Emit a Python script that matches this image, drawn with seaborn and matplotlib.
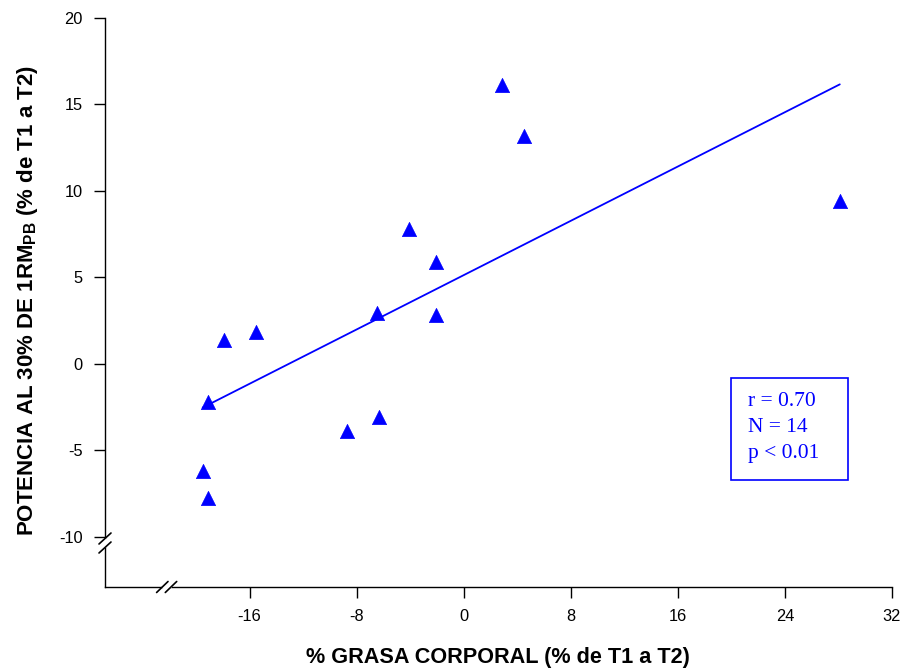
import numpy as np
import pandas as pd
import matplotlib
matplotlib.use("Agg")
import matplotlib.pyplot as plt
import seaborn as sns
from matplotlib.patches import Rectangle

grasa = [-19.5, -19.1, -19.1, -17.9, -15.5, -8.7, -6.5, -6.3, -4.1, -2.1, -2.1, 2.85, 4.5, 28.1]
potencia = [-6.2, -7.75, -2.2, 1.4, 1.85, -3.9, 2.95, -3.05, 7.8, 5.9, 2.8, 16.1, 13.2, 9.4]
x_ticks = [-16, -8, 0, 8, 16, 24, 32]
y_ticks = [-10, -5, 0, 5, 10, 15, 20]
stats_lines = ["r = 0.70", "N = 14", "p < 0.01"]
x_label = "% GRASA CORPORAL (% de T1 a T2)"
y_label = r"POTENCIA AL 30% DE 1RM$_{\mathbf{PB}}$ (% de T1 a T2)"

sns.set_style("ticks")
plt.rcParams['font.family'] = ['Liberation Sans', 'DejaVu Sans']
plt.rcParams['mathtext.fontset'] = 'custom'
plt.rcParams['mathtext.rm'] = 'Liberation Sans'
plt.rcParams['mathtext.bf'] = 'Liberation Sans:bold'

W, H = 900, 672
fig = plt.figure(figsize=(9, 6.72), dpi=100)
L, R, T, B = 105, 892, 18, 587
ax = fig.add_axes([L / W, 1 - B / H, (R - L) / W, (B - T) / H])

df = pd.DataFrame({"grasa": grasa, "potencia": potencia})
sns.regplot(data=df, x="grasa", y="potencia", ci=None, scatter=False, truncate=True,
            color="blue", line_kws=dict(lw=1.3), ax=ax)
sns.scatterplot(data=df, x="grasa", y="potencia", marker="^", s=105, color="blue",
                edgecolor="blue", linewidth=0.5, ax=ax, zorder=3)

ax.set_xlim(-26.8, 32)
ax.set_ylim(-12.9, 20)
ax.set_xticks(x_ticks)
ax.set_yticks(y_ticks)
ax.set_xticklabels([str(v) for v in x_ticks])
ax.set_yticklabels([str(v) for v in y_ticks])
ax.set_xlabel("")
ax.set_ylabel("")
for s in ["top", "right"]:
    ax.spines[s].set_visible(False)
for s in ["left", "bottom"]:
    ax.spines[s].set_color("black")
    ax.spines[s].set_linewidth(1.0)
ax.tick_params(axis="both", direction="out", length=8, width=1.0, color="black",
               labelsize=11.8, labelcolor="black")
ax.tick_params(axis="x", pad=8)
ax.tick_params(axis="y", pad=8)

aw, ah = R - L, B - T
# y-axis break
for cy in (538.5, 547.5):
    fy = (B - cy) / ah
    ax.plot([-6 / aw, 6 / aw], [fy - 5.5 / ah, fy + 5.5 / ah], transform=ax.transAxes,
            color="black", lw=1.2, clip_on=False, zorder=5)
ax.plot([0, 0], [(B - 546) / ah, (B - 540) / ah], transform=ax.transAxes,
        color="white", lw=3, clip_on=False, zorder=4)
# x-axis break
for cx in (162.3, 171.0):
    fx = (cx - L) / aw
    ax.plot([fx - 5.7 / aw, fx + 5.7 / aw], [-5.5 / ah, 5.5 / ah], transform=ax.transAxes,
            color="black", lw=1.2, clip_on=False, zorder=5)
ax.plot([(164 - L) / aw, (169.5 - L) / aw], [0, 0], transform=ax.transAxes,
        color="white", lw=3, clip_on=False, zorder=4)

# stats box
bx0, by0, bx1, by1 = 731, 378, 848, 480
ax.add_patch(Rectangle(((bx0 - L) / aw, (B - by1) / ah), (bx1 - bx0) / aw, (by1 - by0) / ah,
                       transform=ax.transAxes, fill=False, edgecolor="blue", lw=1.2,
                       clip_on=False, zorder=5))
for txt, cy in zip(stats_lines, (401.5, 427, 453.5)):
    ax.text((748 - L) / aw, (B - cy) / ah, txt, transform=ax.transAxes, ha="left",
            va="center", color="blue", fontsize=15.5,
            family=["Liberation Serif", "DejaVu Serif"])

fig.text(498 / W, 1 - 658 / H, x_label, ha="center", va="center", fontsize=15.6,
         fontweight="bold", color="black")
fig.text(28 / W, 1 - 301 / H, y_label, ha="center", va="center", rotation=90,
         fontsize=16.0, fontweight="bold", color="black")

fig.savefig("out.png", dpi=100)
